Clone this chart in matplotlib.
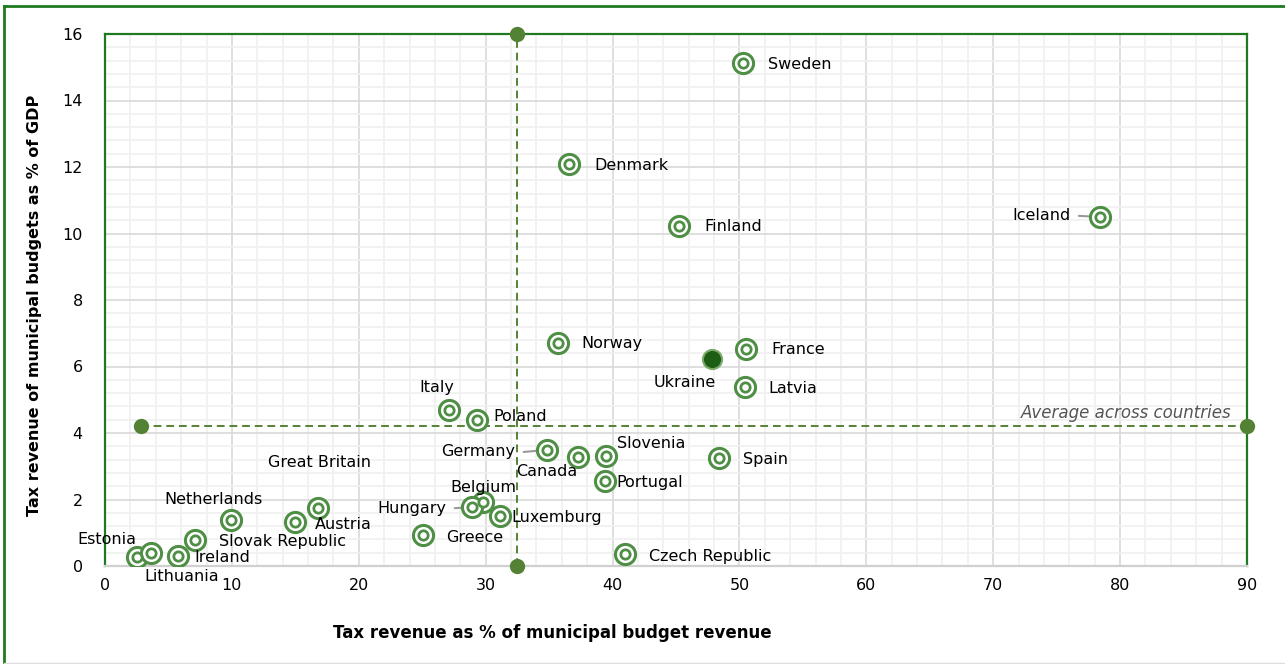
import numpy as np
import matplotlib
matplotlib.use('Agg')
import matplotlib.pyplot as plt
from matplotlib.ticker import MultipleLocator

# Data
countries = ['Sweden', 'Denmark', 'Finland', 'Iceland', 'Norway', 'France', 'Latvia',
             'Italy', 'Poland', 'Germany', 'Canada', 'Slovenia', 'Spain', 'Portugal',
             'Belgium', 'Hungary', 'Luxemburg', 'Greece', 'Czech Republic',
             'Great Britain', 'Austria', 'Netherlands', 'Slovak Republic', 'Ireland',
             'Estonia', 'Lithuania']
tax_share = [50.3, 36.6, 45.2, 78.4, 35.7, 50.5, 50.4,
             27.1, 29.3, 34.8, 37.3, 39.5, 48.4, 39.4,
             29.8, 28.9, 31.1, 25.1, 41.0,
             16.8, 15.0, 9.9, 7.1, 5.75,
             2.5, 3.6]
tax_gdp = [15.13, 12.09, 10.23, 10.5, 6.71, 6.53, 5.38,
           4.69, 4.39, 3.49, 3.28, 3.31, 3.25, 2.56,
           1.92, 1.77, 1.50, 0.93, 0.36,
           1.74, 1.32, 1.38, 0.78, 0.30,
           0.27, 0.39]

ukraine_x, ukraine_y = 47.8, 6.23
avg_x, avg_y = 32.5, 4.2
avg_line_start = 2.8

# label placement: (dx px, dy px, ha, leader line)
label_pos = {
    'Sweden': (25, -2, 'left', False), 'Denmark': (25, -1, 'left', False),
    'Finland': (26, -1, 'left', False), 'Iceland': (-29, 1, 'right', True),
    'Norway': (23, -1, 'left', False), 'France': (26, -1, 'left', False),
    'Latvia': (24, -1, 'left', False), 'Italy': (-12, 23, 'center', False),
    'Poland': (17, 4, 'left', False), 'Germany': (-31, -2, 'right', True),
    'Canada': (-32, -15, 'center', False), 'Slovenia': (11, 12, 'left', False),
    'Spain': (24, -2, 'left', False), 'Portugal': (11, -2, 'left', False),
    'Belgium': (0, 15, 'center', False), 'Hungary': (-25, -1, 'right', True),
    'Luxemburg': (12, -1, 'left', False), 'Greece': (23, -2, 'left', False),
    'Czech Republic': (24, -2, 'left', False), 'Great Britain': (1, 46, 'center', False),
    'Austria': (20, -2, 'left', False), 'Netherlands': (-17, 21, 'center', False),
    'Slovak Republic': (24, -1, 'left', False), 'Ireland': (16, -1, 'left', False),
    'Estonia': (-30, 18, 'center', False), 'Lithuania': (31, -23, 'center', False),
}

green = '#4f8f45'
line_green = '#548235'
frame_green = '#1f7a1f'

fig = plt.figure(figsize=(12.85, 6.64), dpi=100)
ax = fig.add_axes([105 / 1285, 1 - 566 / 664, 1142 / 1285, 532 / 664])

ax.set_xlim(0, 90)
ax.set_ylim(0, 16)
ax.xaxis.set_major_locator(MultipleLocator(10))
ax.xaxis.set_minor_locator(MultipleLocator(2))
ax.yaxis.set_major_locator(MultipleLocator(2))
ax.yaxis.set_minor_locator(MultipleLocator(0.4))
ax.grid(which='major', color='#d9d9d9', lw=1.2)
ax.grid(which='minor', color='#f0f0f0', lw=1.2)
ax.set_axisbelow(True)
ax.tick_params(which='both', length=0, labelsize=11.5)
ax.tick_params(axis='x', pad=9)
ax.tick_params(axis='y', pad=16)
for s in ['left', 'top', 'right']:
    ax.spines[s].set_color(frame_green)
    ax.spines[s].set_linewidth(1.6)
ax.spines['bottom'].set_color('#d0d0d0')
ax.spines['bottom'].set_linewidth(1.6)

# average lines
ax.plot([avg_x, avg_x], [0, 16], ls='--', color=line_green, lw=1.4, dashes=(4, 2.5),
        marker='o', ms=10, clip_on=False, zorder=4)
ax.plot([avg_line_start, 90], [avg_y, avg_y], ls='--', color=line_green, lw=1.4,
        dashes=(4, 2.5), marker='o', ms=10, clip_on=False, zorder=4)
ax.text(88.8, avg_y + 0.12, 'Average across countries', ha='right', va='bottom',
        style='italic', fontsize=12, color='#555555')

# leader lines
for name, x, y in zip(countries, tax_share, tax_gdp):
    dx, dy, ha, lead = label_pos[name]
    if lead:
        ax.annotate('', xy=(x, y), xytext=(dx + 8, dy), textcoords='offset pixels',
                    arrowprops=dict(arrowstyle='-', color='#999999', lw=1.5,
                                    shrinkA=0, shrinkB=0), zorder=3)

# ring markers
ax.scatter(tax_share, tax_gdp, s=210, facecolor='white', edgecolor=green, lw=2.2, zorder=5)
ax.scatter(tax_share, tax_gdp, s=45, facecolor='white', edgecolor=green, lw=2.0, zorder=6)
ax.scatter([ukraine_x], [ukraine_y], s=190, facecolor='#1d5e14', edgecolor='#7aaa6a',
           lw=1.5, zorder=6)

for name, x, y in zip(countries, tax_share, tax_gdp):
    dx, dy, ha, lead = label_pos[name]
    ax.annotate(name, (x, y), xytext=(dx, dy), textcoords='offset pixels',
                ha=ha, va='center', fontsize=11.5, zorder=7)
ax.annotate('Ukraine', (ukraine_x, ukraine_y), xytext=(-27, -24),
            textcoords='offset pixels', ha='center', va='center', fontsize=11.5)

fig.text(552 / 1285, 1 - 633 / 664, 'Tax revenue as % of municipal budget revenue',
         ha='center', va='center', fontsize=12, fontweight='bold')
fig.text(35 / 1285, 1 - 305 / 664, 'Tax revenue of municipal budgets as % of GDP',
         ha='center', va='center', rotation=90, fontsize=11.5, fontweight='bold')

# outer frame
fig.add_artist(plt.Line2D([4 / 1285, 4 / 1285], [0, 1 - 6 / 664], color=frame_green, lw=2))
fig.add_artist(plt.Line2D([4 / 1285, 1], [1 - 6 / 664, 1 - 6 / 664], color=frame_green, lw=2))
fig.add_artist(plt.Line2D([4 / 1285, 1], [1 / 664, 1 / 664], color='#dddddd', lw=1))

fig.savefig('out.png', dpi=100)
